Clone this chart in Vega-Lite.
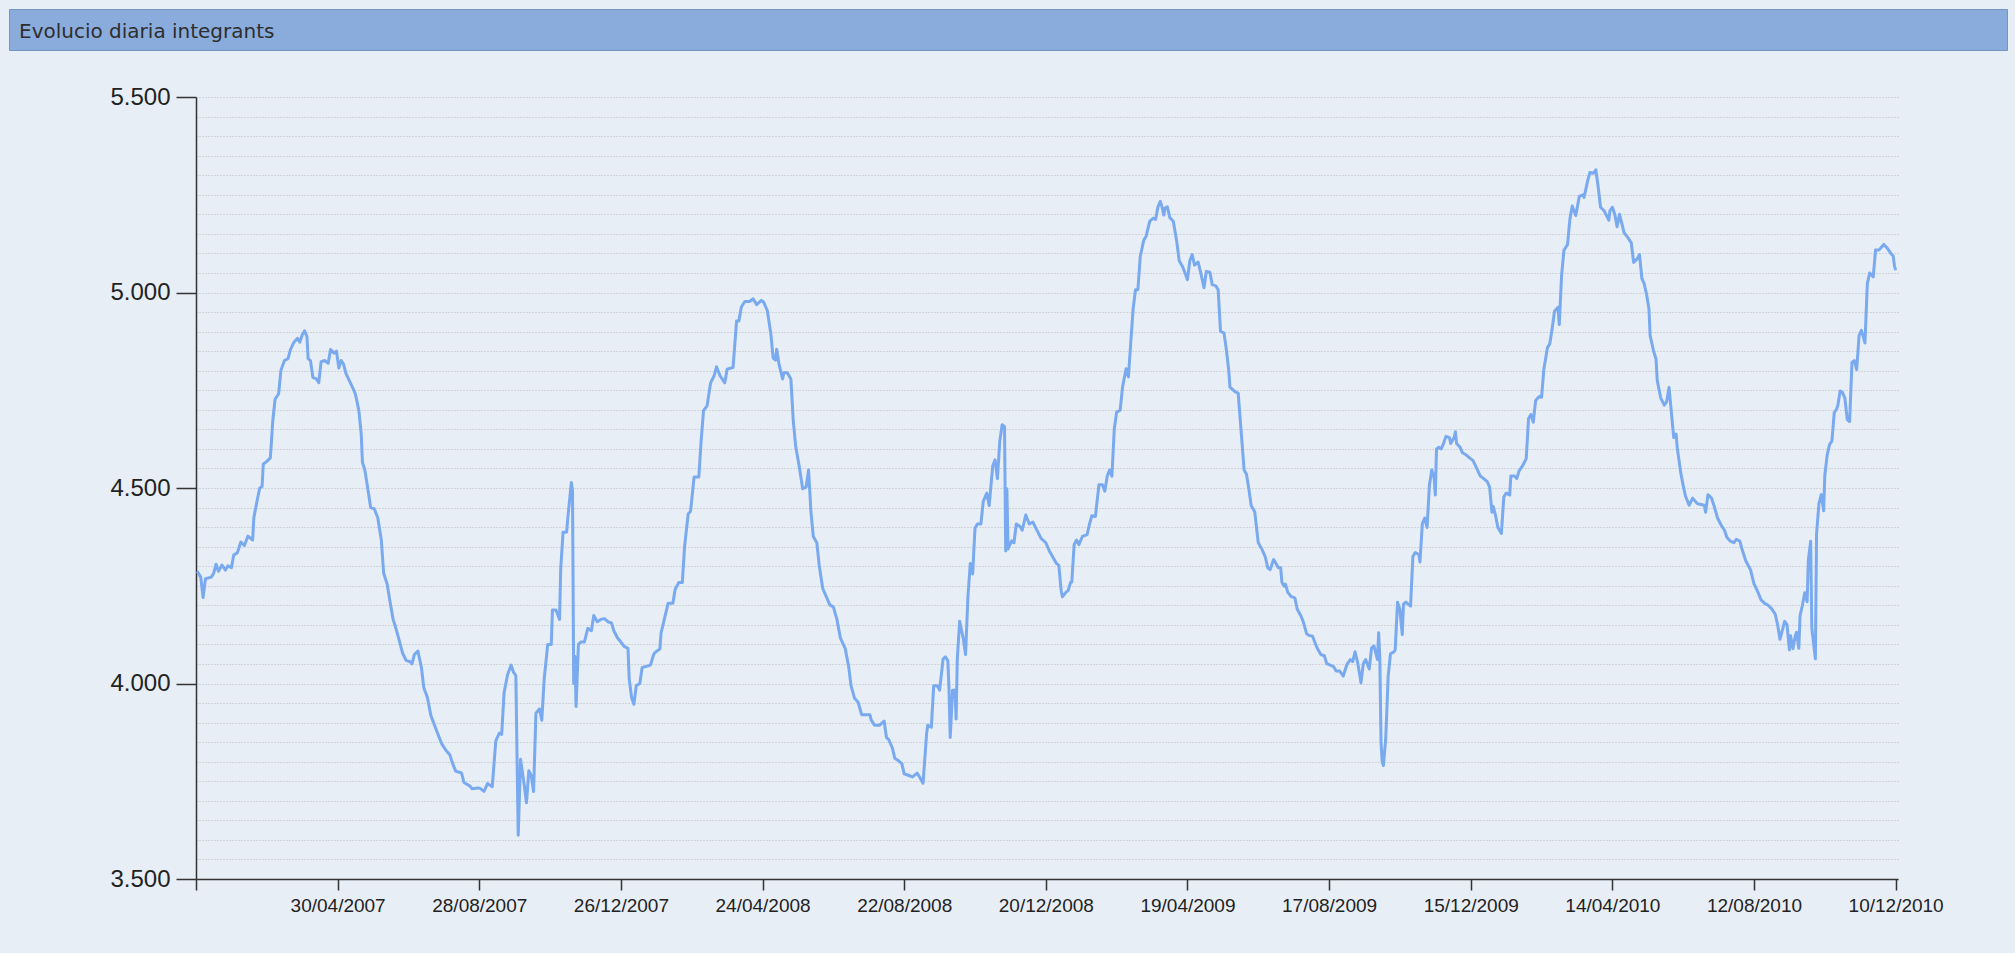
{
  "$schema": "https://vega.github.io/schema/vega-lite/v6.json",
  "background": "#e8eef6",
  "padding": {"left": 8, "top": 8, "right": 9, "bottom": 38},
  "spacing": 34,
  "config": {
    "view": {"stroke": null},
    "font": "Liberation Sans"
  },
  "vconcat": [
    {
      "width": 1998,
      "height": 41,
      "view": {"fill": "#8aacdc", "stroke": "#7594c2", "strokeWidth": 1},
      "data": {"values": [{"t": "Evolucio diaria integrants"}]},
      "mark": {"type": "text", "align": "left", "baseline": "middle", "dx": 10, "dy": 2, "font": "DejaVu Sans", "fontSize": 20, "color": "#2e2e2e"},
      "encoding": {
        "text": {"field": "t"},
        "x": {"field": "t", "type": "nominal", "scale": {"type": "point", "padding": 0, "align": 0}, "axis": null}
      }
    },
    {
      "spacing": 0,
      "hconcat": [
        {
          "width": 100,
          "height": 782,
          "data": {"values": []},
          "mark": {"type": "point", "opacity": 0}
        },
        {
          "width": 1702,
          "height": 782,
          "data": {"values": [
{"date":"2007-01-01","v":4287},{"date":"2007-01-04","v":4272},{"date":"2007-01-06","v":4220},{"date":"2007-01-08","v":4268},{"date":"2007-01-13","v":4272},{"date":"2007-01-15","v":4282},{"date":"2007-01-17","v":4305},{"date":"2007-01-19","v":4287},{"date":"2007-01-22","v":4303},{"date":"2007-01-25","v":4290},{"date":"2007-01-27","v":4301},{"date":"2007-01-30","v":4296},
{"date":"2007-02-01","v":4329},{"date":"2007-02-04","v":4334},{"date":"2007-02-07","v":4362},{"date":"2007-02-10","v":4353},{"date":"2007-02-13","v":4377},{"date":"2007-02-17","v":4367},{"date":"2007-02-18","v":4424},{"date":"2007-02-21","v":4471},{"date":"2007-02-23","v":4500},{"date":"2007-02-25","v":4504},{"date":"2007-02-26","v":4561},
{"date":"2007-03-01","v":4568},{"date":"2007-03-04","v":4577},{"date":"2007-03-06","v":4670},{"date":"2007-03-08","v":4727},{"date":"2007-03-11","v":4741},{"date":"2007-03-13","v":4802},{"date":"2007-03-16","v":4826},{"date":"2007-03-19","v":4831},{"date":"2007-03-21","v":4854},{"date":"2007-03-24","v":4873},{"date":"2007-03-27","v":4883},{"date":"2007-03-29","v":4873},{"date":"2007-03-31","v":4892},
{"date":"2007-04-02","v":4902},{"date":"2007-04-04","v":4887},{"date":"2007-04-05","v":4831},{"date":"2007-04-07","v":4826},{"date":"2007-04-09","v":4783},{"date":"2007-04-12","v":4779},{"date":"2007-04-14","v":4769},{"date":"2007-04-16","v":4823},{"date":"2007-04-19","v":4826},{"date":"2007-04-22","v":4819},{"date":"2007-04-24","v":4854},{"date":"2007-04-27","v":4845},{"date":"2007-04-29","v":4850},
{"date":"2007-05-01","v":4807},{"date":"2007-05-03","v":4826},{"date":"2007-05-05","v":4817},{"date":"2007-05-07","v":4793},{"date":"2007-05-10","v":4774},{"date":"2007-05-13","v":4755},{"date":"2007-05-15","v":4741},{"date":"2007-05-18","v":4698},{"date":"2007-05-20","v":4637},{"date":"2007-05-21","v":4566},{"date":"2007-05-23","v":4547},{"date":"2007-05-25","v":4509},{"date":"2007-05-28","v":4450},{"date":"2007-05-31","v":4447},
{"date":"2007-06-03","v":4424},{"date":"2007-06-06","v":4367},{"date":"2007-06-08","v":4282},{"date":"2007-06-11","v":4254},{"date":"2007-06-13","v":4216},{"date":"2007-06-16","v":4164},{"date":"2007-06-18","v":4145},{"date":"2007-06-21","v":4112},{"date":"2007-06-24","v":4078},{"date":"2007-06-27","v":4059},
{"date":"2007-07-01","v":4055},{"date":"2007-07-02","v":4050},{"date":"2007-07-04","v":4074},{"date":"2007-07-07","v":4083},{"date":"2007-07-10","v":4041},{"date":"2007-07-12","v":3989},{"date":"2007-07-15","v":3965},{"date":"2007-07-18","v":3918},{"date":"2007-07-21","v":3894},{"date":"2007-07-24","v":3870},{"date":"2007-07-27","v":3847},{"date":"2007-07-31","v":3828},
{"date":"2007-08-03","v":3818},{"date":"2007-08-05","v":3799},{"date":"2007-08-08","v":3776},{"date":"2007-08-13","v":3771},{"date":"2007-08-15","v":3747},{"date":"2007-08-20","v":3738},{"date":"2007-08-22","v":3731},{"date":"2007-08-27","v":3733},{"date":"2007-08-29","v":3731},
{"date":"2007-09-01","v":3724},{"date":"2007-09-04","v":3744},{"date":"2007-09-08","v":3736},{"date":"2007-09-11","v":3853},{"date":"2007-09-14","v":3873},{"date":"2007-09-16","v":3870},{"date":"2007-09-18","v":3976},{"date":"2007-09-21","v":4023},{"date":"2007-09-24","v":4047},{"date":"2007-09-26","v":4029},{"date":"2007-09-28","v":4020},{"date":"2007-09-29","v":3812},{"date":"2007-09-30","v":3612},
{"date":"2007-10-02","v":3806},{"date":"2007-10-05","v":3742},{"date":"2007-10-07","v":3695},{"date":"2007-10-09","v":3777},{"date":"2007-10-11","v":3765},{"date":"2007-10-13","v":3724},{"date":"2007-10-15","v":3924},{"date":"2007-10-18","v":3935},{"date":"2007-10-20","v":3906},{"date":"2007-10-22","v":4012},{"date":"2007-10-25","v":4100},{"date":"2007-10-28","v":4100},{"date":"2007-10-29","v":4188},
{"date":"2007-11-01","v":4188},{"date":"2007-11-04","v":4164},{"date":"2007-11-05","v":4293},{"date":"2007-11-07","v":4387},{"date":"2007-11-10","v":4387},{"date":"2007-11-11","v":4423},{"date":"2007-11-14","v":4514},{"date":"2007-11-15","v":4493},{"date":"2007-11-16","v":4000},{"date":"2007-11-17","v":4070},{"date":"2007-11-18","v":3941},{"date":"2007-11-20","v":4100},{"date":"2007-11-22","v":4106},{"date":"2007-11-25","v":4106},{"date":"2007-11-28","v":4141},
{"date":"2007-12-01","v":4135},{"date":"2007-12-03","v":4174},{"date":"2007-12-06","v":4158},{"date":"2007-12-09","v":4164},{"date":"2007-12-12","v":4166},{"date":"2007-12-15","v":4158},{"date":"2007-12-18","v":4155},{"date":"2007-12-20","v":4135},{"date":"2007-12-23","v":4117},{"date":"2007-12-26","v":4106},{"date":"2007-12-29","v":4094},
{"date":"2008-01-01","v":4090},{"date":"2008-01-02","v":4012},{"date":"2008-01-04","v":3965},{"date":"2008-01-06","v":3947},{"date":"2008-01-08","v":3994},{"date":"2008-01-11","v":4000},{"date":"2008-01-13","v":4041},{"date":"2008-01-18","v":4045},{"date":"2008-01-20","v":4047},{"date":"2008-01-23","v":4076},{"date":"2008-01-25","v":4082},{"date":"2008-01-28","v":4088},{"date":"2008-01-29","v":4129},
{"date":"2008-02-01","v":4167},{"date":"2008-02-04","v":4205},{"date":"2008-02-08","v":4205},{"date":"2008-02-10","v":4241},{"date":"2008-02-13","v":4258},{"date":"2008-02-16","v":4258},{"date":"2008-02-18","v":4352},{"date":"2008-02-21","v":4434},{"date":"2008-02-23","v":4440},{"date":"2008-02-26","v":4528},
{"date":"2008-03-01","v":4528},{"date":"2008-03-03","v":4622},{"date":"2008-03-05","v":4698},{"date":"2008-03-08","v":4710},{"date":"2008-03-11","v":4769},{"date":"2008-03-14","v":4787},{"date":"2008-03-16","v":4810},{"date":"2008-03-19","v":4787},{"date":"2008-03-23","v":4769},{"date":"2008-03-25","v":4804},{"date":"2008-03-30","v":4808},
{"date":"2008-04-02","v":4927},{"date":"2008-04-04","v":4927},{"date":"2008-04-06","v":4963},{"date":"2008-04-09","v":4977},{"date":"2008-04-13","v":4977},{"date":"2008-04-16","v":4984},{"date":"2008-04-19","v":4969},{"date":"2008-04-23","v":4980},{"date":"2008-04-25","v":4975},{"date":"2008-04-28","v":4954},
{"date":"2008-05-01","v":4895},{"date":"2008-05-03","v":4832},{"date":"2008-05-05","v":4827},{"date":"2008-05-06","v":4855},{"date":"2008-05-08","v":4816},{"date":"2008-05-11","v":4779},{"date":"2008-05-12","v":4795},{"date":"2008-05-15","v":4795},{"date":"2008-05-18","v":4779},{"date":"2008-05-20","v":4673},{"date":"2008-05-22","v":4609},{"date":"2008-05-25","v":4556},{"date":"2008-05-28","v":4498},{"date":"2008-05-31","v":4503},
{"date":"2008-06-02","v":4546},{"date":"2008-06-04","v":4439},{"date":"2008-06-06","v":4376},{"date":"2008-06-09","v":4360},{"date":"2008-06-11","v":4302},{"date":"2008-06-14","v":4243},{"date":"2008-06-17","v":4222},{"date":"2008-06-20","v":4201},{"date":"2008-06-23","v":4196},{"date":"2008-06-26","v":4164},{"date":"2008-06-29","v":4116},
{"date":"2008-07-03","v":4090},{"date":"2008-07-06","v":4042},{"date":"2008-07-08","v":3994},{"date":"2008-07-11","v":3962},{"date":"2008-07-14","v":3952},{"date":"2008-07-17","v":3920},{"date":"2008-07-21","v":3920},{"date":"2008-07-24","v":3920},{"date":"2008-07-25","v":3907},{"date":"2008-07-28","v":3893},
{"date":"2008-08-01","v":3893},{"date":"2008-08-05","v":3904},{"date":"2008-08-07","v":3862},{"date":"2008-08-09","v":3856},{"date":"2008-08-12","v":3835},{"date":"2008-08-14","v":3809},{"date":"2008-08-17","v":3803},{"date":"2008-08-20","v":3795},{"date":"2008-08-22","v":3769},{"date":"2008-08-25","v":3766},{"date":"2008-08-29","v":3761},
{"date":"2008-09-02","v":3771},{"date":"2008-09-05","v":3756},{"date":"2008-09-07","v":3745},{"date":"2008-09-10","v":3872},{"date":"2008-09-11","v":3893},{"date":"2008-09-14","v":3888},{"date":"2008-09-16","v":3994},{"date":"2008-09-19","v":3994},{"date":"2008-09-21","v":3983},{"date":"2008-09-24","v":4063},{"date":"2008-09-26","v":4068},{"date":"2008-09-28","v":4058},{"date":"2008-09-29","v":3983},{"date":"2008-09-30","v":3862},
{"date":"2008-10-02","v":3983},{"date":"2008-10-04","v":3983},{"date":"2008-10-05","v":3909},{"date":"2008-10-06","v":4063},{"date":"2008-10-08","v":4159},{"date":"2008-10-11","v":4116},{"date":"2008-10-13","v":4074},{"date":"2008-10-15","v":4222},{"date":"2008-10-17","v":4307},{"date":"2008-10-19","v":4280},{"date":"2008-10-21","v":4397},{"date":"2008-10-23","v":4408},{"date":"2008-10-26","v":4408},{"date":"2008-10-28","v":4466},{"date":"2008-10-31","v":4487},
{"date":"2008-11-02","v":4455},{"date":"2008-11-05","v":4556},{"date":"2008-11-07","v":4572},{"date":"2008-11-09","v":4524},{"date":"2008-11-11","v":4620},{"date":"2008-11-13","v":4662},{"date":"2008-11-15","v":4657},{"date":"2008-11-16","v":4339},{"date":"2008-11-17","v":4498},{"date":"2008-11-18","v":4344},{"date":"2008-11-21","v":4365},{"date":"2008-11-23","v":4360},{"date":"2008-11-25","v":4408},{"date":"2008-11-28","v":4402},{"date":"2008-11-30","v":4392},
{"date":"2008-12-03","v":4431},{"date":"2008-12-06","v":4408},{"date":"2008-12-09","v":4413},{"date":"2008-12-12","v":4395},{"date":"2008-12-16","v":4371},{"date":"2008-12-20","v":4360},{"date":"2008-12-23","v":4339},{"date":"2008-12-26","v":4323},{"date":"2008-12-29","v":4307},{"date":"2008-12-31","v":4302},
{"date":"2009-01-02","v":4238},{"date":"2009-01-03","v":4222},{"date":"2009-01-06","v":4233},{"date":"2009-01-08","v":4238},{"date":"2009-01-10","v":4259},{"date":"2009-01-11","v":4259},{"date":"2009-01-13","v":4355},{"date":"2009-01-15","v":4367},{"date":"2009-01-17","v":4355},{"date":"2009-01-20","v":4376},{"date":"2009-01-24","v":4381},{"date":"2009-01-26","v":4408},{"date":"2009-01-28","v":4429},{"date":"2009-01-31","v":4427},
{"date":"2009-02-03","v":4508},{"date":"2009-02-06","v":4508},{"date":"2009-02-08","v":4492},{"date":"2009-02-10","v":4530},{"date":"2009-02-12","v":4546},{"date":"2009-02-14","v":4530},{"date":"2009-02-16","v":4651},{"date":"2009-02-18","v":4694},{"date":"2009-02-21","v":4699},{"date":"2009-02-23","v":4758},{"date":"2009-02-26","v":4805},{"date":"2009-02-28","v":4784},
{"date":"2009-03-02","v":4874},{"date":"2009-03-04","v":4959},{"date":"2009-03-06","v":5007},{"date":"2009-03-08","v":5007},{"date":"2009-03-10","v":5092},{"date":"2009-03-13","v":5134},{"date":"2009-03-15","v":5144},{"date":"2009-03-18","v":5182},{"date":"2009-03-21","v":5190},{"date":"2009-03-23","v":5187},{"date":"2009-03-25","v":5219},{"date":"2009-03-27","v":5233},{"date":"2009-03-28","v":5224},{"date":"2009-03-30","v":5198},{"date":"2009-03-31","v":5216},
{"date":"2009-04-02","v":5219},{"date":"2009-04-04","v":5192},{"date":"2009-04-07","v":5182},{"date":"2009-04-10","v":5129},{"date":"2009-04-12","v":5081},{"date":"2009-04-15","v":5065},{"date":"2009-04-17","v":5049},{"date":"2009-04-19","v":5033},{"date":"2009-04-21","v":5081},{"date":"2009-04-23","v":5097},{"date":"2009-04-25","v":5070},{"date":"2009-04-28","v":5078},{"date":"2009-04-30","v":5054},
{"date":"2009-05-03","v":5012},{"date":"2009-05-05","v":5054},{"date":"2009-05-08","v":5052},{"date":"2009-05-10","v":5020},{"date":"2009-05-13","v":5017},{"date":"2009-05-15","v":5007},{"date":"2009-05-17","v":4901},{"date":"2009-05-20","v":4896},{"date":"2009-05-22","v":4853},{"date":"2009-05-24","v":4800},{"date":"2009-05-25","v":4758},{"date":"2009-05-29","v":4747},
{"date":"2009-06-01","v":4742},{"date":"2009-06-04","v":4625},{"date":"2009-06-06","v":4546},{"date":"2009-06-08","v":4535},{"date":"2009-06-10","v":4498},{"date":"2009-06-12","v":4455},{"date":"2009-06-15","v":4439},{"date":"2009-06-18","v":4360},{"date":"2009-06-21","v":4344},{"date":"2009-06-24","v":4323},{"date":"2009-06-26","v":4296},{"date":"2009-06-28","v":4291},
{"date":"2009-07-01","v":4317},{"date":"2009-07-03","v":4307},{"date":"2009-07-05","v":4296},{"date":"2009-07-07","v":4296},{"date":"2009-07-08","v":4259},{"date":"2009-07-10","v":4249},{"date":"2009-07-11","v":4254},{"date":"2009-07-13","v":4233},{"date":"2009-07-16","v":4222},{"date":"2009-07-19","v":4219},{"date":"2009-07-21","v":4190},{"date":"2009-07-24","v":4174},{"date":"2009-07-26","v":4159},{"date":"2009-07-29","v":4127},{"date":"2009-07-31","v":4123},
{"date":"2009-08-03","v":4121},{"date":"2009-08-05","v":4105},{"date":"2009-08-07","v":4090},{"date":"2009-08-10","v":4074},{"date":"2009-08-13","v":4071},{"date":"2009-08-15","v":4051},{"date":"2009-08-19","v":4046},{"date":"2009-08-21","v":4042},{"date":"2009-08-23","v":4032},{"date":"2009-08-26","v":4032},{"date":"2009-08-29","v":4019},
{"date":"2009-09-01","v":4048},{"date":"2009-09-04","v":4061},{"date":"2009-09-06","v":4056},{"date":"2009-09-08","v":4081},{"date":"2009-09-10","v":4056},{"date":"2009-09-12","v":4022},{"date":"2009-09-13","v":4002},{"date":"2009-09-15","v":4051},{"date":"2009-09-17","v":4061},{"date":"2009-09-20","v":4037},{"date":"2009-09-22","v":4091},{"date":"2009-09-24","v":4096},{"date":"2009-09-27","v":4061},{"date":"2009-09-28","v":4130},{"date":"2009-09-29","v":4061},{"date":"2009-09-30","v":3850},
{"date":"2009-10-01","v":3800},{"date":"2009-10-02","v":3790},{"date":"2009-10-04","v":3860},{"date":"2009-10-06","v":4017},{"date":"2009-10-08","v":4076},{"date":"2009-10-11","v":4081},{"date":"2009-10-12","v":4086},{"date":"2009-10-14","v":4208},{"date":"2009-10-16","v":4188},{"date":"2009-10-18","v":4125},{"date":"2009-10-19","v":4203},{"date":"2009-10-21","v":4208},{"date":"2009-10-25","v":4198},{"date":"2009-10-27","v":4325},{"date":"2009-10-29","v":4335},
{"date":"2009-11-01","v":4330},{"date":"2009-11-02","v":4311},{"date":"2009-11-04","v":4409},{"date":"2009-11-06","v":4423},{"date":"2009-11-08","v":4399},{"date":"2009-11-10","v":4507},{"date":"2009-11-12","v":4546},{"date":"2009-11-14","v":4526},{"date":"2009-11-15","v":4482},{"date":"2009-11-16","v":4600},{"date":"2009-11-18","v":4604},{"date":"2009-11-20","v":4600},{"date":"2009-11-22","v":4614},{"date":"2009-11-24","v":4632},{"date":"2009-11-27","v":4629},{"date":"2009-11-28","v":4614},
{"date":"2009-12-01","v":4629},{"date":"2009-12-02","v":4644},{"date":"2009-12-03","v":4614},{"date":"2009-12-06","v":4604},{"date":"2009-12-08","v":4590},{"date":"2009-12-11","v":4585},{"date":"2009-12-14","v":4577},{"date":"2009-12-17","v":4570},{"date":"2009-12-20","v":4551},{"date":"2009-12-23","v":4531},{"date":"2009-12-26","v":4524},{"date":"2009-12-29","v":4516},{"date":"2009-12-31","v":4502},
{"date":"2010-01-02","v":4438},{"date":"2010-01-03","v":4453},{"date":"2010-01-05","v":4430},{"date":"2010-01-07","v":4399},{"date":"2010-01-10","v":4384},{"date":"2010-01-12","v":4477},{"date":"2010-01-14","v":4487},{"date":"2010-01-17","v":4482},{"date":"2010-01-18","v":4531},{"date":"2010-01-21","v":4531},{"date":"2010-01-23","v":4524},{"date":"2010-01-25","v":4544},{"date":"2010-01-28","v":4557},{"date":"2010-01-31","v":4575},
{"date":"2010-02-02","v":4678},{"date":"2010-02-04","v":4688},{"date":"2010-02-06","v":4668},{"date":"2010-02-08","v":4724},{"date":"2010-02-11","v":4734},{"date":"2010-02-13","v":4732},{"date":"2010-02-15","v":4805},{"date":"2010-02-18","v":4859},{"date":"2010-02-20","v":4869},{"date":"2010-02-22","v":4908},{"date":"2010-02-24","v":4952},{"date":"2010-02-27","v":4962},{"date":"2010-02-28","v":4918},
{"date":"2010-03-02","v":5045},{"date":"2010-03-04","v":5108},{"date":"2010-03-07","v":5123},{"date":"2010-03-09","v":5187},{"date":"2010-03-11","v":5221},{"date":"2010-03-14","v":5197},{"date":"2010-03-17","v":5246},{"date":"2010-03-20","v":5250},{"date":"2010-03-21","v":5243},{"date":"2010-03-24","v":5285},{"date":"2010-03-26","v":5307},{"date":"2010-03-29","v":5305},{"date":"2010-03-31","v":5314},
{"date":"2010-04-02","v":5269},{"date":"2010-04-04","v":5218},{"date":"2010-04-07","v":5209},{"date":"2010-04-11","v":5185},{"date":"2010-04-12","v":5209},{"date":"2010-04-14","v":5218},{"date":"2010-04-16","v":5200},{"date":"2010-04-18","v":5168},{"date":"2010-04-20","v":5200},{"date":"2010-04-22","v":5177},{"date":"2010-04-24","v":5152},{"date":"2010-04-27","v":5141},{"date":"2010-04-30","v":5127},
{"date":"2010-05-02","v":5077},{"date":"2010-05-05","v":5086},{"date":"2010-05-07","v":5097},{"date":"2010-05-09","v":5036},{"date":"2010-05-11","v":5022},{"date":"2010-05-13","v":4995},{"date":"2010-05-15","v":4958},{"date":"2010-05-16","v":4890},{"date":"2010-05-19","v":4849},{"date":"2010-05-21","v":4830},{"date":"2010-05-22","v":4775},{"date":"2010-05-25","v":4730},{"date":"2010-05-28","v":4712},{"date":"2010-05-30","v":4721},
{"date":"2010-06-01","v":4757},{"date":"2010-06-03","v":4693},{"date":"2010-06-05","v":4629},{"date":"2010-06-07","v":4638},{"date":"2010-06-08","v":4602},{"date":"2010-06-11","v":4538},{"date":"2010-06-13","v":4506},{"date":"2010-06-15","v":4479},{"date":"2010-06-18","v":4456},{"date":"2010-06-21","v":4474},{"date":"2010-06-25","v":4460},{"date":"2010-06-28","v":4458},
{"date":"2010-07-01","v":4456},{"date":"2010-07-02","v":4438},{"date":"2010-07-04","v":4483},{"date":"2010-07-07","v":4474},{"date":"2010-07-09","v":4456},{"date":"2010-07-12","v":4424},{"date":"2010-07-15","v":4406},{"date":"2010-07-18","v":4392},{"date":"2010-07-20","v":4374},{"date":"2010-07-23","v":4364},{"date":"2010-07-26","v":4360},{"date":"2010-07-28","v":4369},{"date":"2010-07-31","v":4364},
{"date":"2010-08-02","v":4342},{"date":"2010-08-05","v":4314},{"date":"2010-08-09","v":4291},{"date":"2010-08-12","v":4255},{"date":"2010-08-15","v":4236},{"date":"2010-08-18","v":4214},{"date":"2010-08-21","v":4205},{"date":"2010-08-24","v":4200},{"date":"2010-08-27","v":4191},{"date":"2010-08-30","v":4177},
{"date":"2010-09-01","v":4150},{"date":"2010-09-03","v":4113},{"date":"2010-09-05","v":4136},{"date":"2010-09-07","v":4159},{"date":"2010-09-09","v":4150},{"date":"2010-09-11","v":4086},{"date":"2010-09-12","v":4122},{"date":"2010-09-14","v":4089},{"date":"2010-09-16","v":4122},{"date":"2010-09-17","v":4131},{"date":"2010-09-19","v":4090},{"date":"2010-09-20","v":4173},{"date":"2010-09-22","v":4200},{"date":"2010-09-24","v":4232},{"date":"2010-09-26","v":4209},{"date":"2010-09-27","v":4314},{"date":"2010-09-29","v":4364},{"date":"2010-09-30","v":4141},
{"date":"2010-10-03","v":4063},{"date":"2010-10-04","v":4383},{"date":"2010-10-06","v":4460},{"date":"2010-10-08","v":4483},{"date":"2010-10-10","v":4442},{"date":"2010-10-11","v":4533},{"date":"2010-10-13","v":4584},{"date":"2010-10-15","v":4611},{"date":"2010-10-17","v":4620},{"date":"2010-10-19","v":4693},{"date":"2010-10-21","v":4702},{"date":"2010-10-22","v":4711},{"date":"2010-10-24","v":4748},{"date":"2010-10-26","v":4744},{"date":"2010-10-28","v":4730},{"date":"2010-10-30","v":4675},
{"date":"2010-11-01","v":4670},{"date":"2010-11-03","v":4821},{"date":"2010-11-05","v":4826},{"date":"2010-11-07","v":4803},{"date":"2010-11-09","v":4890},{"date":"2010-11-11","v":4903},{"date":"2010-11-14","v":4871},{"date":"2010-11-16","v":5022},{"date":"2010-11-18","v":5050},{"date":"2010-11-21","v":5040},{"date":"2010-11-23","v":5109},{"date":"2010-11-26","v":5109},{"date":"2010-11-30","v":5123},
{"date":"2010-12-03","v":5113},{"date":"2010-12-06","v":5100},{"date":"2010-12-08","v":5093},{"date":"2010-12-09","v":5068},{"date":"2010-12-10","v":5057}
          ]},
          "mark": {"type": "line", "color": "#79a9ee", "strokeWidth": 3, "strokeJoin": "round", "clip": true},
          "encoding": {
            "x": {
              "field": "date",
              "type": "temporal",
              "scale": {"type": "utc", "domain": [{"year": 2006, "month": 12, "date": 31, "utc": true}, {"year": 2010, "month": 12, "date": 12, "utc": true}]},
              "axis": {
                "title": null,
                "grid": false,
                "values": [
                  {"year": 2006, "month": 12, "date": 31, "utc": true},
                  {"year": 2007, "month": 4, "date": 30, "utc": true},
                  {"year": 2007, "month": 8, "date": 28, "utc": true},
                  {"year": 2007, "month": 12, "date": 26, "utc": true},
                  {"year": 2008, "month": 4, "date": 24, "utc": true},
                  {"year": 2008, "month": 8, "date": 22, "utc": true},
                  {"year": 2008, "month": 12, "date": 20, "utc": true},
                  {"year": 2009, "month": 4, "date": 19, "utc": true},
                  {"year": 2009, "month": 8, "date": 17, "utc": true},
                  {"year": 2009, "month": 12, "date": 15, "utc": true},
                  {"year": 2010, "month": 4, "date": 14, "utc": true},
                  {"year": 2010, "month": 8, "date": 12, "utc": true},
                  {"year": 2010, "month": 12, "date": 10, "utc": true}
                ],
                "labelExpr": "utcyear(datum.value) < 2007 ? '' : utcFormat(datum.value, '%d/%m/%Y')",
                "labelFlush": false,
                "labelOverlap": false,
                "labelBound": false,
                "tickSize": 11,
                "tickColor": "#333333",
                "tickWidth": 1.5,
                "domainColor": "#333333",
                "domainWidth": 1.5,
                "labelFont": "Liberation Sans",
                "labelFontSize": 19,
                "labelColor": "#222222",
                "labelPadding": 6
              }
            },
            "y": {
              "field": "v",
              "type": "quantitative",
              "scale": {"domain": [3500, 5500], "nice": false, "zero": false},
              "axis": {
                "title": null,
                "values": [3500,3550,3600,3650,3700,3750,3800,3850,3900,3950,4000,4050,4100,4150,4200,4250,4300,4350,4400,4450,4500,4550,4600,4650,4700,4750,4800,4850,4900,4950,5000,5050,5100,5150,5200,5250,5300,5350,5400,5450,5500],
                "labelExpr": "datum.value % 500 === 0 ? replace(format(datum.value, ','), ',', '.') : ''",
                "labelFlush": false,
                "labelOverlap": false,
                "labelBound": false,
                "grid": true,
                "gridColor": "#b8b8b8",
                "gridDash": [1, 2],
                "gridWidth": 1,
                "tickOpacity": {"condition": {"test": "datum.value % 500 === 0", "value": 1}, "value": 0},
                "tickSize": 20,
                "tickColor": "#333333",
                "tickWidth": 1.5,
                "domainColor": "#333333",
                "domainWidth": 1.5,
                "labelFont": "Liberation Sans",
                "labelFontSize": 24,
                "labelColor": "#222222",
                "labelPadding": 6
              }
            }
          }
        }
      ]
    }
  ]
}
